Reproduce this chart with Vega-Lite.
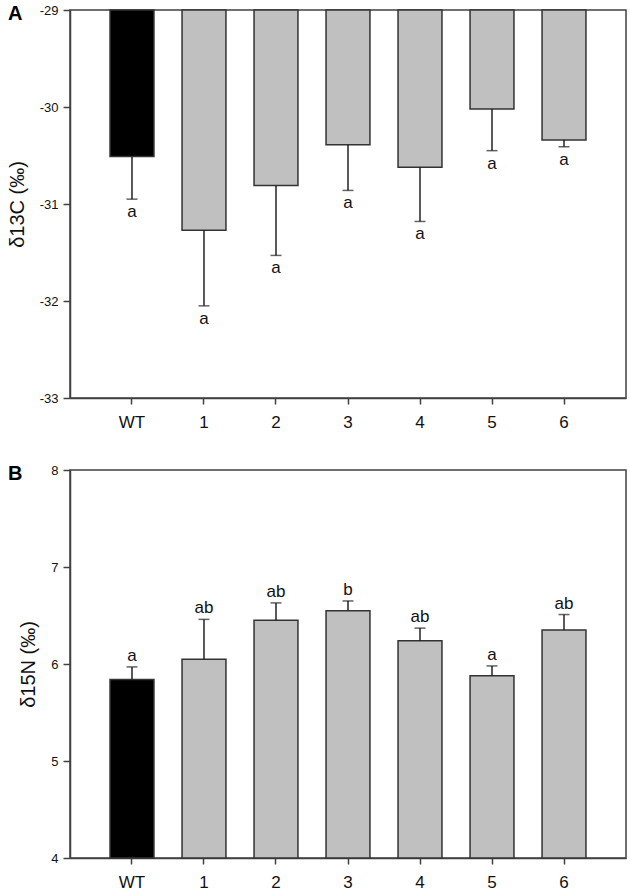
{
  "$schema": "https://vega.github.io/schema/vega-lite/v6.json",
  "background": "white",
  "padding": {"left": 6, "top": 3, "right": 4, "bottom": 2},
  "spacing": 32,
  "config": {
    "font": "Liberation Sans",
    "view": {"stroke": "#404040", "strokeWidth": 1.5},
    "axis": {
      "domainColor": "#404040", "domainWidth": 1.5, "tickColor": "#404040", "tickWidth": 1.5,
      "labelFont": "Liberation Sans", "titleFont": "Liberation Sans", "labelColor": "#111", "titleColor": "#111",
      "grid": false
    },
    "title": {"font": "Liberation Sans"}
  },
  "datasets": {
    "c13": [
      {"g": "WT", "mean": -30.51, "err": -30.95, "lab": "a", "grp": "wt"},
      {"g": "1", "mean": -31.27, "err": -32.05, "lab": "a", "grp": "tg"},
      {"g": "2", "mean": -30.81, "err": -31.53, "lab": "a", "grp": "tg"},
      {"g": "3", "mean": -30.39, "err": -30.86, "lab": "a", "grp": "tg"},
      {"g": "4", "mean": -30.62, "err": -31.18, "lab": "a", "grp": "tg"},
      {"g": "5", "mean": -30.02, "err": -30.45, "lab": "a", "grp": "tg"},
      {"g": "6", "mean": -30.34, "err": -30.41, "lab": "a", "grp": "tg"}
    ],
    "n15": [
      {"g": "WT", "mean": 5.84, "err": 5.97, "lab": "a", "grp": "wt"},
      {"g": "1", "mean": 6.05, "err": 6.46, "lab": "ab", "grp": "tg"},
      {"g": "2", "mean": 6.45, "err": 6.63, "lab": "ab", "grp": "tg"},
      {"g": "3", "mean": 6.55, "err": 6.65, "lab": "b", "grp": "tg"},
      {"g": "4", "mean": 6.24, "err": 6.37, "lab": "ab", "grp": "tg"},
      {"g": "5", "mean": 5.88, "err": 5.98, "lab": "a", "grp": "tg"},
      {"g": "6", "mean": 6.35, "err": 6.51, "lab": "ab", "grp": "tg"}
    ]
  },
  "vconcat": [
    {
      "width": 556, "height": 388,
      "title": {"text": "A", "anchor": "start", "frame": "group", "orient": "top", "baseline": "top", "offset": 0, "dx": -62, "dy": 20, "fontSize": 20, "fontWeight": "bold", "color": "#000"},
      "data": {"name": "c13"},
      "encoding": {
        "x": {"field": "g", "type": "nominal", "sort": null,
          "scale": {"paddingInner": 0.39, "paddingOuter": 0.556},
          "axis": {"title": null, "labelAngle": 0, "labelFontSize": 17, "tickSize": 6, "labelPadding": 10}}
      },
      "layer": [
        {
          "mark": {"type": "bar", "stroke": "#333", "strokeWidth": 1.5},
          "encoding": {
            "y": {"field": "mean", "type": "quantitative",
              "scale": {"domain": [-33, -29], "nice": false, "zero": false},
              "axis": {"title": "δ13C (‰)", "values": [-33, -32, -31, -30, -29], "labelExpr": "datum.value + ''", "labelFontSize": 13, "tickSize": 7, "labelPadding": 5, "titleFontSize": 20, "titleFontWeight": "normal", "titlePadding": 12}},
            "y2": {"datum": -29},
            "fill": {"field": "grp", "type": "nominal", "scale": {"domain": ["wt", "tg"], "range": ["#000000", "#c0c0c0"]}, "legend": null}
          }
        },
        {
          "mark": {"type": "rule", "color": "#222", "strokeWidth": 1.5},
          "encoding": {"y": {"field": "mean", "type": "quantitative"}, "y2": {"field": "err"}}
        },
        {
          "mark": {"type": "tick", "color": "#222", "thickness": 1.5, "size": 11},
          "encoding": {"y": {"field": "err", "type": "quantitative"}}
        },
        {
          "mark": {"type": "text", "fontSize": 17, "baseline": "alphabetic", "dy": 18, "color": "#111"},
          "encoding": {"y": {"field": "err", "type": "quantitative"}, "text": {"field": "lab"}}
        }
      ]
    },
    {
      "width": 556, "height": 388,
      "title": {"text": "B", "anchor": "start", "frame": "group", "orient": "top", "baseline": "top", "offset": 0, "dx": -62, "dy": 20, "fontSize": 20, "fontWeight": "bold", "color": "#000"},
      "data": {"name": "n15"},
      "encoding": {
        "x": {"field": "g", "type": "nominal", "sort": null,
          "scale": {"paddingInner": 0.39, "paddingOuter": 0.556},
          "axis": {"title": null, "labelAngle": 0, "labelFontSize": 17, "tickSize": 6, "labelPadding": 10}}
      },
      "layer": [
        {
          "mark": {"type": "bar", "stroke": "#333", "strokeWidth": 1.5},
          "encoding": {
            "y": {"field": "mean", "type": "quantitative",
              "scale": {"domain": [4, 8], "nice": false, "zero": false},
              "axis": {"title": "δ15N (‰)", "values": [4, 5, 6, 7, 8], "labelExpr": "datum.value + ''", "labelFontSize": 13, "tickSize": 7, "labelPadding": 5, "titleFontSize": 20, "titleFontWeight": "normal", "titlePadding": 12}},
            "y2": {"datum": 4},
            "fill": {"field": "grp", "type": "nominal", "scale": {"domain": ["wt", "tg"], "range": ["#000000", "#c0c0c0"]}, "legend": null}
          }
        },
        {
          "mark": {"type": "rule", "color": "#222", "strokeWidth": 1.5},
          "encoding": {"y": {"field": "mean", "type": "quantitative"}, "y2": {"field": "err"}}
        },
        {
          "mark": {"type": "tick", "color": "#222", "thickness": 1.5, "size": 11},
          "encoding": {"y": {"field": "err", "type": "quantitative"}}
        },
        {
          "mark": {"type": "text", "fontSize": 17, "baseline": "alphabetic", "dy": -6, "color": "#111"},
          "encoding": {"y": {"field": "err", "type": "quantitative"}, "text": {"field": "lab"}}
        }
      ]
    }
  ]
}
